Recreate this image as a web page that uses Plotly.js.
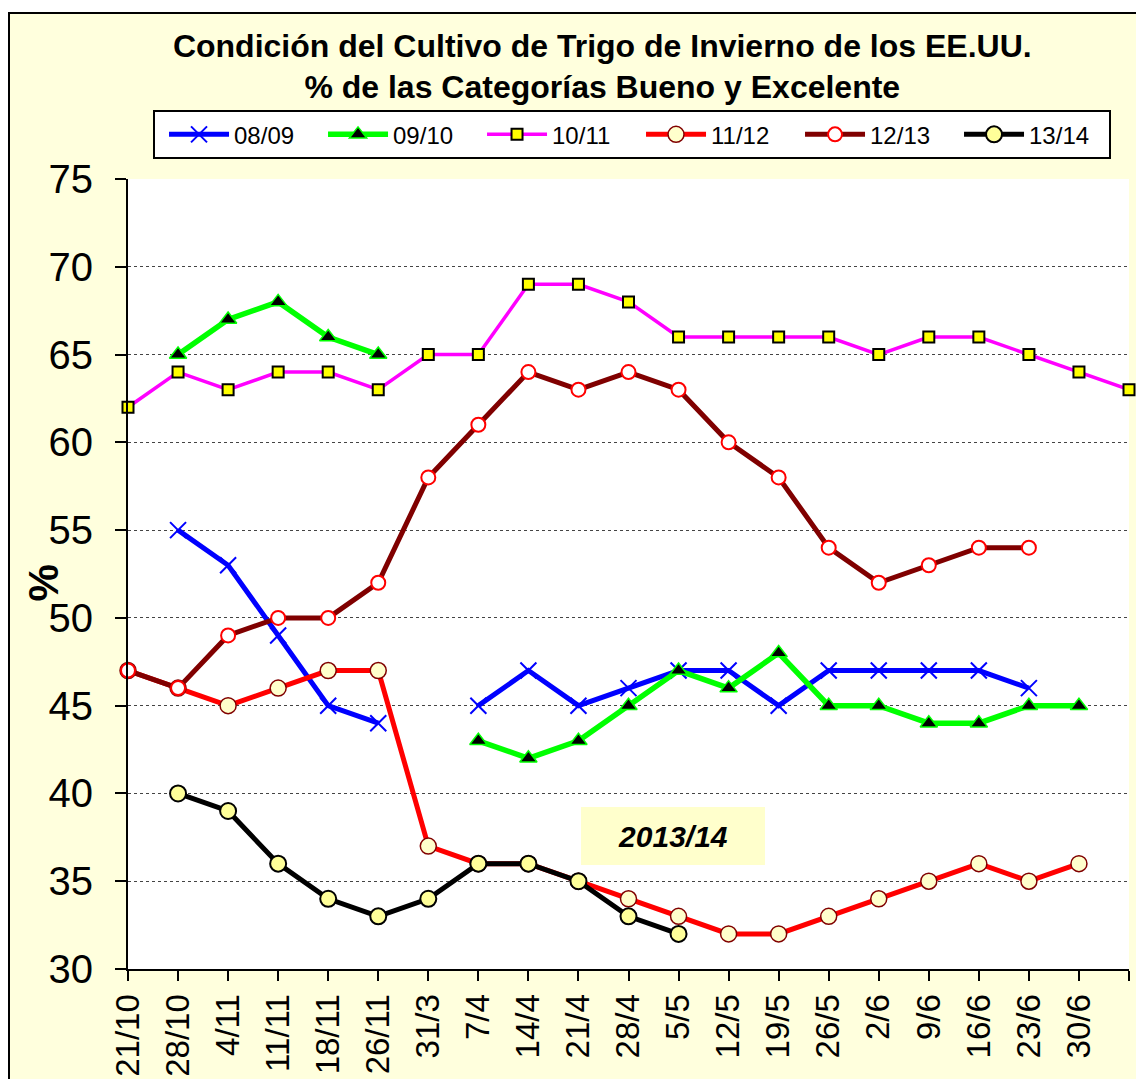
<!DOCTYPE html>
<html>
<head>
<meta charset="utf-8">
<script src="https://cdn.plot.ly/plotly-3.0.1.min.js"></script>
<style>
  html, body { margin: 0; padding: 0; background: #ffffff; width: 1136px; height: 1079px; overflow: hidden; }
  #chart { position: absolute; left: 8px; top: 12px; width: 1126px; height: 1065px;
           border-left: 2px solid #000; border-top: 2px solid #000; }
</style>
</head>
<body>
<div id="chart"></div>
<script>
// Categories (weekly dates); the last position has no label
const categories = ["21/10","28/10","4/11","11/11","18/11","26/11","31/3","7/4","14/4","21/4",
                    "28/4","5/5","12/5","19/5","26/5","2/6","9/6","16/6","23/6","30/6"," "];

const s0809 = [null,55,53,49,45,44,null,45,47,45,46,47,47,45,47,47,47,47,46,null,null];
const s0910 = [null,65,67,68,66,65,null,43,42,43,45,47,46,48,45,45,44,44,45,45,null];
const s1011 = [62,64,63,64,64,63,65,65,69,69,68,66,66,66,66,65,66,66,65,64,63];
const s1112 = [47,46,45,46,47,47,37,36,36,35,34,33,32,32,33,34,35,36,35,36,null];
const s1213 = [47,46,49,50,50,52,58,61,64,63,64,63,60,58,54,52,53,54,54,null,null];
const s1314 = [null,40,39,36,34,33,34,36,36,35,33,32,null,null,null,null,null,null,null,null,null];

const seriesNames = ["08/09","09/10","10/11","11/12","12/13","13/14"];
const noteText = "2013/14";
const yTitle = "%";

const FONT = "Liberation Sans, Arial, sans-serif";

function tr(name, y, lineColor, lineWidth, marker) {
  return {
    type: "scatter", mode: "lines+markers", name: name,
    x: categories, y: y, connectgaps: false, cliponaxis: false,
    line: { color: lineColor, width: lineWidth },
    marker: marker
  };
}

const data = [
  tr(seriesNames[0], s0809, "#0000FF", 5,
     { symbol: "x-thin", size: 16, color: "#0000FF", line: { color: "#0000FF", width: 2 } }),
  tr(seriesNames[1], s0910, "#00FF00", 5.5,
     { symbol: "triangle-up", size: 15, color: "#000000", line: { color: "#00FF00", width: 1.5 } }),
  tr(seriesNames[2], s1011, "#FF00FF", 3.5,
     { symbol: "square", size: 11, color: "#FFFF00", line: { color: "#000000", width: 2 } }),
  tr(seriesNames[3], s1112, "#FF0000", 5,
     { symbol: "circle", size: 16, color: "#FFFFCC", line: { color: "#800000", width: 1.5 } }),
  tr(seriesNames[4], s1213, "#800000", 5,
     { symbol: "circle", size: 14, color: "#FFFFFF", line: { color: "#FF0000", width: 2 } }),
  tr(seriesNames[5], s1314, "#000000", 5,
     { symbol: "circle", size: 16, color: "#FFFF99", line: { color: "#000000", width: 2 } })
];

const layout = {
  width: 1126, height: 1065,
  paper_bgcolor: "#FFFFDD",
  plot_bgcolor: "#FFFFFF",
  font: { family: FONT, color: "#000000" },
  margin: { l: 118, r: 7, t: 165, b: 110, pad: 0 },
  title: {
    text: "<b>Condición del Cultivo de Trigo de Invierno de los EE.UU.<br>% de las Categorías Bueno y Excelente</b>",
    font: { family: FONT, size: 32, color: "#000000" },
    xref: "container", x: 0.526, xanchor: "center",
    yref: "container", y: 0.96, yanchor: "top"
  },
  showlegend: true,
  legend: {
    orientation: "h",
    x: 0.025, xanchor: "left",
    y: 1.087, yanchor: "top",
    bgcolor: "#FFFFFF", bordercolor: "#000000", borderwidth: 2,
    font: { family: FONT, size: 24, color: "#000000" },
    entrywidth: 75, entrywidthmode: "pixels",
    itemwidth: 60,
    indentation: 9,
    traceorder: "normal"
  },
  xaxis: {
    type: "category",
    categoryorder: "array", categoryarray: categories,
    range: [0, 20],
    showgrid: false, zeroline: false,
    showline: true, linecolor: "#000000", linewidth: 2,
    ticks: "outside", ticklen: 10, tickwidth: 2, tickcolor: "#000000",
    tickangle: -90,
    tickfont: { family: FONT, size: 33, color: "#000000" },
    fixedrange: true
  },
  yaxis: {
    range: [30, 75],
    dtick: 5, tick0: 30,
    showgrid: true, gridcolor: "#444444", gridwidth: 1, griddash: "dot",
    zeroline: false,
    showline: true, linecolor: "#000000", linewidth: 2,
    ticks: "outside", ticklen: 11, tickwidth: 2, tickcolor: "#000000",
    ticklabelstandoff: 14,
    tickfont: { family: FONT, size: 40, color: "#000000" },
    fixedrange: true
  },
  annotations: [{
    xref: "x", yref: "y", x: 10.89, y: 37.58,
    text: "<b><i>" + noteText + "</i></b>",
    showarrow: false,
    font: { family: FONT, size: 30, color: "#000000" },
    bgcolor: "#FFFFCC",
    width: 180, height: 54, borderpad: 2, borderwidth: 0
  }, {
    xref: "paper", yref: "paper", x: -0.084, y: 0.489,
    xanchor: "center", yanchor: "middle",
    text: "<b>" + yTitle + "</b>", textangle: -90,
    showarrow: false,
    font: { family: FONT, size: 42, color: "#000000" }
  }]
};

Plotly.newPlot("chart", data, layout, { displayModeBar: false, staticPlot: true });
</script>
</body>
</html>
